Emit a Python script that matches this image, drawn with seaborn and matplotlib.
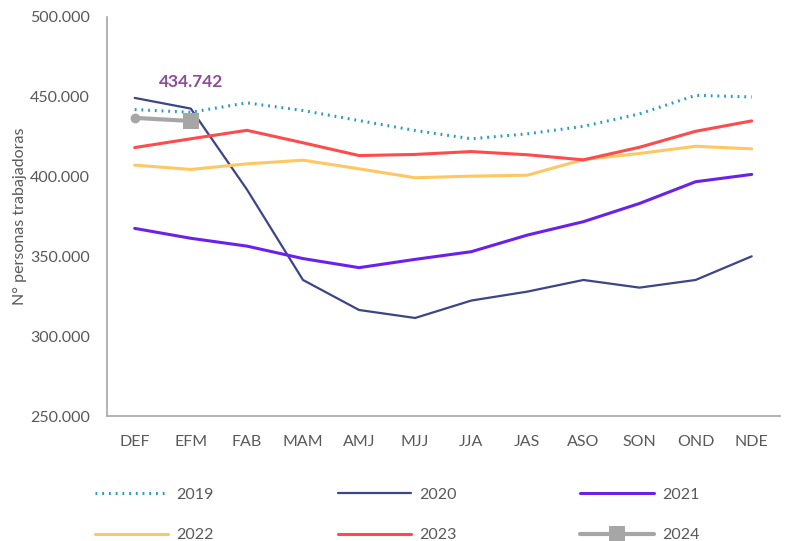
"""
Monthly rolling quarters: workers count per year, line chart.
"""
import pandas as pd
import seaborn as sns
from matplotlib import pyplot as plt
from matplotlib.ticker import FuncFormatter

quarters = ['DEF', 'EFM', 'FAB', 'MAM', 'AMJ', 'MJJ',
            'JJA', 'JAS', 'ASO', 'SON', 'OND', 'NDE']

y2019 = [441900, 440200, 446100, 441300, 435000, 428800,
         423600, 426700, 431400, 439200, 450800, 449800]
y2020 = [449200, 442500, 391900, 335200, 316400, 311400,
         322300, 327900, 335200, 330400, 335200, 350000]
y2021 = [367500, 361300, 356400, 348600, 342900, 348100,
         352900, 363300, 371700, 383100, 396700, 401300]
y2022 = [407100, 404400, 407900, 410200, 404800, 399200,
         400200, 400800, 410600, 414400, 418900, 417300]
y2023 = [418100, 423600, 428900, 421100, 413100, 413800,
         415600, 413600, 410400, 418300, 428300, 434800]
y2024 = [436700, 434742]

TEXT_COLOR = '#595959'
FONT = ['Lato', 'DejaVu Sans']

sns.set_style('white')
plt.rcParams['font.family'] = FONT

fig = plt.figure(figsize=(7.9, 5.41), dpi=100)
ax = fig.add_axes([0.135, 0.231, 0.852, 0.738])

sns.lineplot(x=quarters, y=y2019, ax=ax, color='#2A9CBE', lw=2.2,
             linestyle=(0, (0.6, 1.6)), label='2019', sort=False)
sns.lineplot(x=quarters, y=y2020, ax=ax, color='#3C4588', lw=1.6,
             label='2020', sort=False)
sns.lineplot(x=quarters, y=y2021, ax=ax, color='#6B21EE', lw=2.2,
             label='2021', sort=False)
sns.lineplot(x=quarters, y=y2022, ax=ax, color='#FFC761', lw=2.2,
             label='2022', sort=False)
sns.lineplot(x=quarters, y=y2023, ax=ax, color='#FF4B4B', lw=2.2,
             label='2023', sort=False)
sns.lineplot(x=quarters[:2], y=y2024, ax=ax, color='#A6A6A6', lw=3,
             marker='s', markersize=11, markevery=[1],
             markeredgewidth=0, label='2024', sort=False)
sns.scatterplot(x=quarters[:1], y=y2024[:1], ax=ax, color='#A6A6A6',
                s=50, linewidth=0, zorder=5)

ax.annotate('434.742', xy=(1, y2024[1]), xytext=(0, 22),
            textcoords='offset points', ha='center', va='bottom',
            fontsize=12.5, fontweight='bold', color='#8E4B9B')

ax.set_xlim(-0.5, 11.5)
ax.set_ylim(250000, 500000)
ax.set_yticks(range(250000, 500001, 50000))
ax.yaxis.set_major_formatter(
    FuncFormatter(lambda v, _: f'{int(v):,}'.replace(',', '.')))
ax.tick_params(axis='both', labelsize=11.5, colors=TEXT_COLOR, length=0)
ax.tick_params(axis='x', pad=14)
ax.tick_params(axis='y', pad=12)
ax.set_xlabel('')
ax.set_ylabel('N° personas trabajadoras', fontsize=11.5, color=TEXT_COLOR,
              labelpad=2)

for side in ['top', 'right']:
    ax.spines[side].set_visible(False)
for side in ['left', 'bottom']:
    ax.spines[side].set_color('#A6A6A6')
    ax.spines[side].set_linewidth(1.2)

# legend is filled column-wise, so reorder to read row-wise
handles, labels = ax.get_legend_handles_labels()
ax.get_legend().remove()
order = [0, 3, 1, 4, 2, 5]
fig.legend([handles[i] for i in order], [labels[i] for i in order],
           ncol=3, loc='lower left', bbox_to_anchor=(0.11, -0.017),
           frameon=False, fontsize=11.5, borderpad=0.0,
           handlelength=4.6, handletextpad=0.5, columnspacing=7.75,
           labelspacing=1.65, labelcolor=TEXT_COLOR)

plt.savefig('out.png', dpi=100)
